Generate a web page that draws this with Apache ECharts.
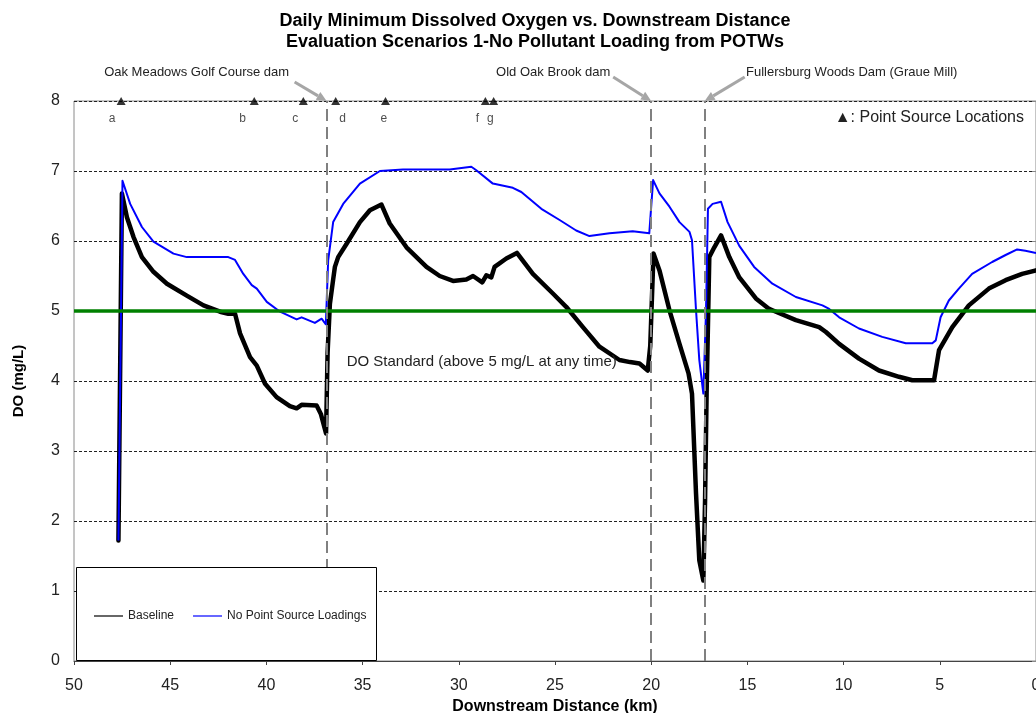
<!DOCTYPE html>
<html><head><meta charset="utf-8">
<script src="https://cdn.jsdelivr.net/npm/echarts@6/dist/echarts.min.js"></script>
<style>html,body{margin:0;padding:0;background:#fff}#c{width:1036px;height:713px}</style>
</head><body><div id="c"></div>
<script>
// ---------------- data ----------------
const baseline = [[47.69,1.72],[47.51,6.68],[47.25,6.34],[46.91,6.06],[46.47,5.77],[45.87,5.56],[45.17,5.39],[44.14,5.22],[43.27,5.08],[42.41,4.99],[41.98,4.96],[41.63,4.96],[41.37,4.68],[40.85,4.34],[40.5,4.22],[40.07,3.96],[39.47,3.77],[38.78,3.64],[38.43,3.61],[38.17,3.66],[37.39,3.65],[37.17,3.53],[36.9,3.25],[36.82,4.4],[36.7,5.1],[36.53,5.45],[36.44,5.63],[36.27,5.77],[35.83,5.96],[35.14,6.27],[34.62,6.44],[34.02,6.52],[33.59,6.25],[32.72,5.91],[31.68,5.63],[30.99,5.5],[30.3,5.43],[29.61,5.45],[29.26,5.5],[28.78,5.41],[28.57,5.51],[28.31,5.48],[28.14,5.63],[27.53,5.75],[26.98,5.83],[26.15,5.53],[25.11,5.25],[24.42,5.06],[23.55,4.77],[22.69,4.49],[21.65,4.3],[21.1,4.27],[20.61,4.25],[20.18,4.15],[20.05,4.5],[19.88,5.82],[19.57,5.58],[19.05,5.01],[18.53,4.53],[18.06,4.11],[17.88,3.82],[17.67,2.39],[17.5,1.44],[17.29,1.15],[17.2,2.3],[17.12,3.82],[16.98,5.77],[16.72,5.91],[16.37,6.08],[15.94,5.77],[15.42,5.48],[14.56,5.18],[13.87,5.03],[13.7,5.01],[12.48,4.87],[11.27,4.77],[10.92,4.7],[10.23,4.53],[9.2,4.32],[8.16,4.15],[7.12,4.06],[6.43,4.01],[5.3,4.01],[5.04,4.44],[4.35,4.77],[3.49,5.08],[2.45,5.32],[1.58,5.44],[0.72,5.53],[0.0,5.58]];
const noPointSource = [[47.69,1.72],[47.48,6.86],[47.08,6.53],[46.47,6.2],[45.87,5.99],[44.83,5.82],[44.14,5.77],[41.98,5.77],[41.63,5.73],[41.2,5.53],[40.76,5.37],[40.5,5.32],[39.98,5.13],[39.29,4.99],[38.43,4.88],[38.17,4.91],[37.48,4.83],[37.13,4.89],[36.91,4.81],[36.79,5.72],[36.53,6.27],[36.01,6.53],[35.14,6.82],[34.1,7.0],[32.9,7.02],[30.47,7.02],[29.35,7.06],[29.09,7.01],[28.23,6.82],[27.19,6.76],[26.75,6.7],[25.71,6.46],[24.76,6.3],[23.9,6.15],[23.21,6.07],[22.17,6.11],[20.96,6.14],[20.1,6.11],[19.9,6.87],[19.57,6.68],[19.05,6.49],[18.53,6.27],[18.01,6.13],[17.88,6.01],[17.67,5.01],[17.5,4.3],[17.29,3.82],[17.15,5.01],[17.05,6.46],[16.81,6.53],[16.37,6.56],[16.03,6.27],[15.42,5.93],[14.65,5.63],[13.7,5.39],[12.48,5.2],[11.1,5.08],[10.75,5.03],[10.23,4.91],[9.2,4.75],[7.99,4.63],[6.77,4.54],[5.39,4.54],[5.21,4.58],[4.96,4.91],[4.53,5.15],[4.01,5.32],[3.32,5.53],[2.28,5.7],[1.58,5.8],[0.98,5.88],[0.55,5.86],[0.0,5.83]];
const sourceNames = ['a','b','c','d','e','f','g'];
const sourceKm = [47.55,40.63,38.08,36.4,33.81,28.62,28.19];
const damNames = ['Oak Meadows Golf Course dam','Old Oak Brook dam','Fullersburg Woods Dam (Graue Mill)'];
const damKm = [36.87,20.0,17.22];
const doStandard = 5;
const yTop = 8;
const xTickMin = 0, xTickMax = 50, xTickStep = 5;
const yTickMin = 0, yTickMax = 8, yTickStep = 1;
const seriesNames = ['Baseline','No Point Source Loadings'];
const standardText = 'DO Standard (above 5 mg/L at any time)';
const standardAnchor = [35.83, 4.27];

// ---------------- layout / style ----------------
const FONT = '"Liberation Sans", Arial, sans-serif';
const labelShift = [-9,-11.6,-8,7,-1.7,-8,-3.3];
const arrowStart = [[-32,-19],[-38,-24],[40,-24]];
const damLabelShift = [[-130,-29],[-98,-29],[147,-29]];

const chart = echarts.init(document.getElementById('c'));
const option = {
  animation:false,
  backgroundColor:'#fff',
  title:{
    text:'Daily Minimum Dissolved Oxygen vs. Downstream Distance\nEvaluation Scenarios 1-No Pollutant Loading from POTWs',
    left:530, top:6, textAlign:'center',
    textStyle:{fontFamily:FONT,fontSize:18,fontWeight:'bold',color:'#000',lineHeight:21}
  },
  grid:{left:74,right:0,top:101,bottom:52,outerBoundsMode:'none',containLabel:false,show:true,borderColor:'#8a8a8a',borderWidth:1,backgroundColor:'#fff'},
  legend:{
    data:seriesNames, left:89, top:605, itemWidth:29, itemHeight:12, itemGap:19, z:10,
    icon:'path://M0,5 L29,5 L29,6.2 L0,6.2 Z',
    textStyle:{fontFamily:FONT,fontSize:12,color:'#222'}
  },
  xAxis:{
    type:'value', inverse:true, min:xTickMin, max:xTickMax, interval:xTickStep,
    name:'Downstream Distance (km)', nameLocation:'middle', nameGap:32,
    nameTextStyle:{fontFamily:FONT,fontSize:16,fontWeight:'bold',color:'#000'},
    axisLine:{lineStyle:{color:'#444',width:1}},
    axisTick:{show:true,length:4,lineStyle:{color:'#444'}},
    axisLabel:{fontFamily:FONT,fontSize:16,color:'#222',margin:17},
    splitLine:{show:false}
  },
  yAxis:{
    type:'value', min:yTickMin, max:yTickMax, interval:yTickStep,
    name:'DO (mg/L)', nameLocation:'middle', nameGap:48, nameRotate:90,
    nameTextStyle:{fontFamily:FONT,fontSize:15,fontWeight:'bold',color:'#000'},
    axisLine:{show:true,lineStyle:{color:'#8a8a8a',width:1}},
    axisTick:{show:true,length:4,lineStyle:{color:'#8a8a8a'}},
    axisLabel:{fontFamily:FONT,fontSize:16,color:'#222',margin:14},
    splitLine:{show:true,lineStyle:{color:'#222',width:1,type:[3,2]}}
  },
  series:[
    {
      name:'standard', type:'line', data:[], silent:true, z:2,
      markLine:{silent:true,symbol:'none',label:{show:false},
        lineStyle:{color:'#008000',width:3.5,type:'solid'},
        data:[{yAxis:doStandard}]}
    },
    {
      name:seriesNames[0], type:'line', data:baseline, symbol:'none', z:3,
      lineStyle:{color:'#000',width:4.5,join:'round',cap:'round'}, itemStyle:{color:'#000'}
    },
    {
      name:seriesNames[1], type:'line', data:noPointSource, symbol:'none', z:4,
      lineStyle:{color:'#0000ff',width:2,join:'round'}, itemStyle:{color:'#0000ff'}
    },
    {
      name:'dams', type:'line', data:[], silent:true, z:5,
      markLine:{silent:true,symbol:'none',label:{show:false},
        lineStyle:{color:'#808080',width:2,type:[12,6]},
        data:damKm.map(v=>({xAxis:v}))}
    },
    {
      name:'sources', type:'scatter', clip:false, z:6,
      data:sourceKm.map((v,i)=>({value:[v,yTop],
        label:{offset:[labelShift[i],18]}})),
      symbol:'triangle', symbolSize:[9,8], symbolOffset:[0,0],
      itemStyle:{color:'#000'},
      label:{show:true,position:'inside',formatter:p=>sourceNames[p.dataIndex],
        fontFamily:FONT,fontSize:12,color:'#222'}
    }
  ]
};
chart.setOption(option);

function arrowShapes(x0,y0,x1,y1){
  const a=Math.atan2(y1-y0,x1-x0), L=10, W=4.5;
  const c=Math.cos(a), s=Math.sin(a);
  const bx=x1-L*c, by=y1-L*s;
  return [
    {type:'line',z:20,shape:{x1:x0,y1:y0,x2:bx,y2:by},style:{stroke:'#a6a6a6',lineWidth:3}},
    {type:'polygon',z:20,shape:{points:[[x1,y1],[bx-W*s,by+W*c],[bx+W*s,by-W*c]]},style:{fill:'#a6a6a6'}}
  ];
}
const g=[];
damKm.forEach((v,i)=>{
  const t=chart.convertToPixel({gridIndex:0},[v,yTop]);
  g.push(...arrowShapes(t[0]+arrowStart[i][0],t[1]+arrowStart[i][1],t[0],t[1]));
  g.push({type:'text',z:20,x:t[0]+damLabelShift[i][0],y:t[1]+damLabelShift[i][1],
    style:{text:damNames[i],fontFamily:FONT,fontSize:13,fill:'#222',align:'center',verticalAlign:'middle'}});
});
const sp=chart.convertToPixel({gridIndex:0},standardAnchor);
g.push({type:'text',z:20,x:sp[0],y:sp[1],style:{text:standardText,fontFamily:FONT,fontSize:15,fill:'#222',align:'left',verticalAlign:'middle'}});
g.push({type:'text',z:20,right:12,top:110,style:{text:'▲: Point Source Locations',fontFamily:FONT,fontSize:16,fill:'#222'}});
g.push({type:'rect',z:9,left:76,top:567,shape:{width:300,height:93},style:{fill:'#fff',stroke:'#000',lineWidth:1}});
chart.setOption({graphic:g});
</script>
</body></html>
